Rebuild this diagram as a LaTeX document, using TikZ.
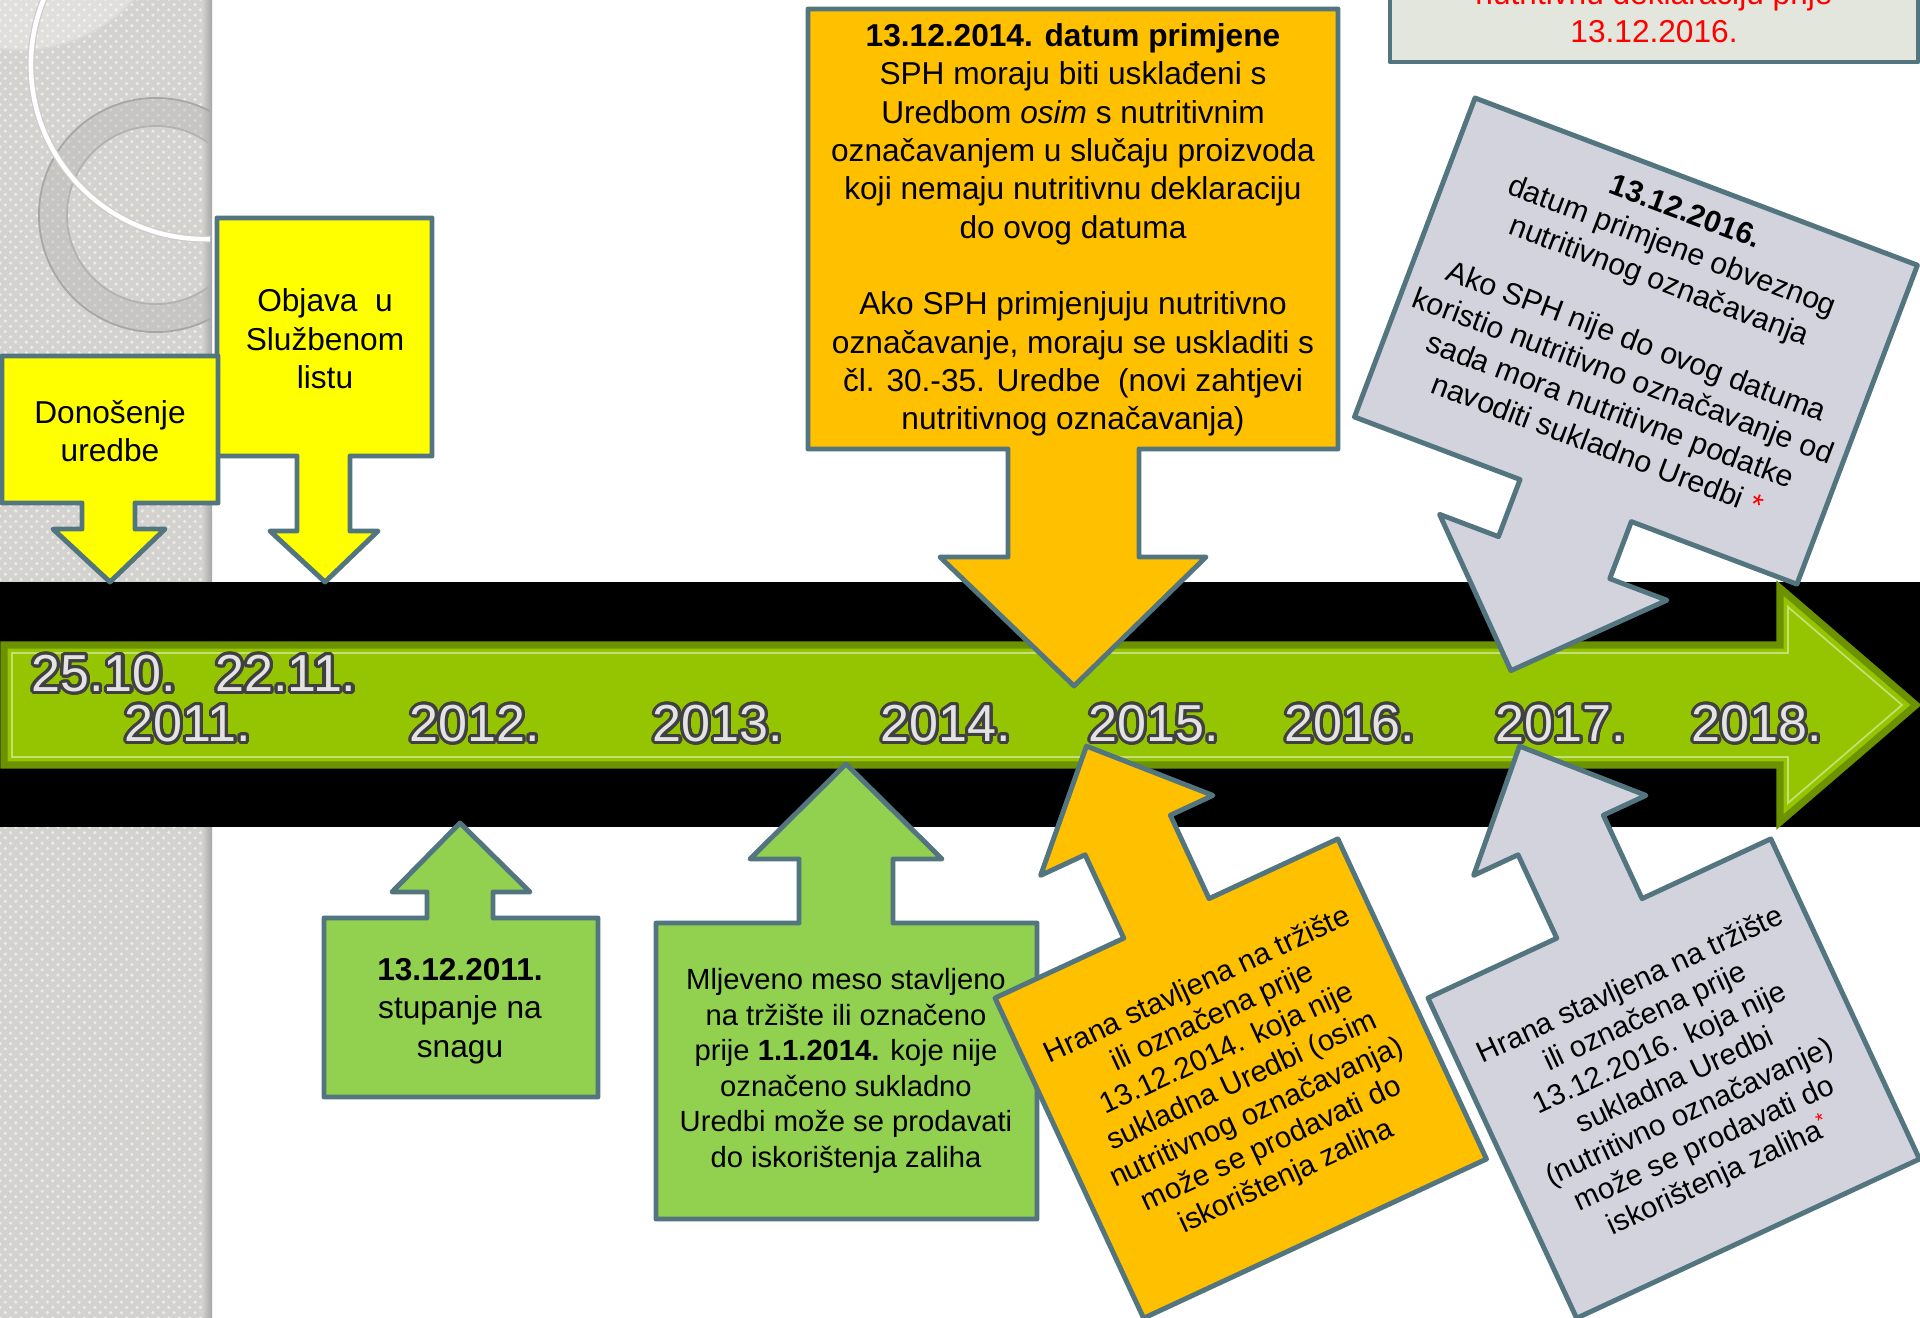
\documentclass[tikz,border=0pt]{standalone}
\usepackage{fontspec}
\setmainfont{Liberation Sans}
\usepackage{contour}
\usepackage{tikz}
\usetikzlibrary{patterns}
\contourlength{0.9pt}
\contournumber{24}
\definecolor{cedge}{HTML}{52757F}
\definecolor{cyellow}{HTML}{FFFF00}
\definecolor{corange}{HTML}{FFC000}
\definecolor{cgreen}{HTML}{92D050}
\definecolor{clav}{HTML}{D3D3DE}
\definecolor{cpale}{HTML}{E2E6DC}
\definecolor{agreen}{HTML}{95C500}
\definecolor{adark}{HTML}{6C9200}
\definecolor{stripegrey}{HTML}{D4D2CE}
\newcommand{\yearmark}[1]{\contour{black!75}{\textcolor{gray!22}{#1}}}
\tikzset{callout/.style = {draw = cedge, line width = 1.4pt, line join = round},
  boxtext/.style = {align = center, inner sep = 0, font = \fontsize{9}{10.9}\selectfont},
  greentext/.style = {align = center, inner sep = 0, font = \fontsize{9}{11}\selectfont},
  minctext/.style = {align = center, inner sep = 0, font = \fontsize{8.3}{10.1}\selectfont},
  tilttext/.style = {align = center, inner sep = 0, font = \fontsize{8.6}{10.5}\selectfont},
  hranatext/.style = {align = center, inner sep = 0, font = \fontsize{8.4}{10}\selectfont},
  yearlabel/.style = {inner sep = 0, font = \fontsize{14.8}{16}\selectfont}}

\begin{document}
\begin{tikzpicture}[x = 0.01cm, y = -0.01cm]
      \useasboundingbox (0, 0) rectangle (1920, 1318);
      \clip (0, 0) rectangle (1920, 1318);
      \fill [white] (0, 0) rectangle (1920, 1318);

      \fill [stripegrey] (0, 0) rectangle (212, 1318);
      \fill [pattern = crosshatch dots, pattern color = black!8] (0, 0) rectangle (212, 1318);
      \shade [left color = stripegrey, right color = black!35] (202, 0) rectangle (212, 1318);
      \begin{scope}
        \clip (0, 0) rectangle (210, 1318);
        \fill [white, opacity = 0.3] (20, -103) circle (1.53cm);
        \draw [white!85!black, line width = 0.5pt] (20, -103) circle (1.53cm);
        \fill [black!30, opacity = 0.4, even odd rule] (156, 215) circle (1.17cm) (156, 215) circle (0.89cm);
        \draw [black!35, line width = 0.5pt] (156, 215) circle (1.17cm);
        \draw [black!30, line width = 0.5pt] (156, 215) circle (0.89cm);
        \draw [black!20, line width = 2pt] (205, 65) circle (1.74cm);
        \draw [white, line width = 1.3pt] (205, 65) circle (1.74cm);
      \end{scope}

      \fill [black] (0, 582) rectangle (1920, 827);
      \draw [adark, fill = agreen, line width = 2pt] (4, 645) -- (1780, 645) -- (1780, 588) -- (1916, 705) -- (1780, 822) -- (1780, 765) -- (4, 765) -- cycle;
      \draw [agreen!55!white, line width = 0.5pt] (12, 653) -- (1788, 653) -- (1788, 607) -- (1902, 705) -- (1788, 803) -- (1788, 757) -- (12, 757) -- cycle;

      \node [yearlabel] (d2510) at (104, 675) {\yearmark{25.10.}};
      \node [yearlabel] (d2211) at (286, 675) {\yearmark{22.11.}};
      \node [yearlabel] (y2011) at (188, 725) {\yearmark{2011.}};
      \node [yearlabel] (y2012) at (475, 725) {\yearmark{2012.}};
      \node [yearlabel] (y2013) at (718, 725) {\yearmark{2013.}};
      \node [yearlabel] (y2014) at (946, 725) {\yearmark{2014.}};
      \node [yearlabel] (y2015) at (1154, 725) {\yearmark{2015.}};
      \node [yearlabel] (y2016) at (1350, 725) {\yearmark{2016.}};
      \node [yearlabel] (y2017) at (1561, 725) {\yearmark{2017.}};
      \node [yearlabel] (y2018) at (1757, 725) {\yearmark{2018.}};

      \draw [callout, fill = cyellow] (217, 218) -- (432, 218) -- (432, 456) -- (350, 456) -- (350, 531) -- (378, 531) -- (325, 582) -- (270, 531) -- (297, 531) -- (297, 456) -- (217, 456) -- cycle;
      \node [boxtext] (objava) at (325, 339) {Objava\ \ u\\Službenom\\listu};
      \draw [callout, fill = cyellow] (2, 356) -- (218, 356) -- (218, 503) -- (135, 503) -- (135, 529) -- (165, 529) -- (110, 582) -- (53, 529) -- (82, 529) -- (82, 503) -- (2, 503) -- cycle;
      \node [boxtext] (donosenje) at (110, 431) {Donošenje\\uredbe};

      \draw [callout, fill = corange] (808, 9) -- (1338, 9) -- (1338, 449) -- (1139, 449) -- (1139, 557) -- (1206, 557) -- (1074, 686) -- (940, 557) -- (1008, 557) -- (1008, 449) -- (808, 449) -- cycle;
      \node [boxtext] (primjena) at (1073, 230) {\textbf{13.12.2014. datum primjene}\\SPH moraju biti usklađeni s\\Uredbom \textit{osim} s nutritivnim\\označavanjem u slučaju proizvoda\\koji nemaju nutritivnu deklaraciju\\do ovog datuma\\[10.9pt]Ako SPH primjenjuju nutritivno\\označavanje, moraju se uskladiti s\\čl. 30.-35. Uredbe\ \ (novi zahtjevi\\nutritivnog označavanja)};

      \draw [callout, fill = cpale] (1390, -20) rectangle (1918, 62);
      \node [boxtext, text = red] (deklaracija) at (1654, 12) {nutritivnu deklaraciju prije\\13.12.2016.};

      \begin{scope}[shift = {(1475, 98)}, rotate = -20.7, transform shape]
        \draw [callout, fill = clav] (0, 0) -- (473, 0) -- (473, 341) -- (296, 341) -- (296, 402) -- (357, 402) -- (236, 523) -- (114, 402) -- (177, 402) -- (177, 341) -- (0, 341) -- cycle;
        \node [tilttext] (obvezno) at (237, 156) {\textbf{13.12.2016.}\\datum primjene obveznog\\nutritivnog označavanja\\[8pt]Ako SPH nije do ovog datuma\\koristio nutritivno označavanje od\\sada mora nutritivne podatke\\navoditi sukladno Uredbi \textcolor{red}{*}};
      \end{scope}

      \draw [callout, fill = cgreen] (324, 918) -- (427, 918) -- (427, 892) -- (392, 892) -- (460, 823) -- (530, 892) -- (493, 892) -- (493, 918) -- (598, 918) -- (598, 1097) -- (324, 1097) -- cycle;
      \node [greentext] (stupanje) at (460, 1011) {\textbf{13.12.2011.}\\stupanje na\\snagu};

      \draw [callout, fill = cgreen] (656, 923) -- (799, 923) -- (799, 859) -- (750, 859) -- (846, 764) -- (942, 859) -- (893, 859) -- (893, 923) -- (1037, 923) -- (1037, 1219) -- (656, 1219) -- cycle;
      \node [minctext] (mljeveno) at (846, 1071) {Mljeveno meso stavljeno\\na tržište ili označeno\\prije \textbf{1.1.2014.} koje nije\\označeno sukladno\\Uredbi može se prodavati\\do iskorištenja zaliha};

      \begin{scope}[shift = {(995, 998)}, rotate = 24.9, transform shape]
        \draw [callout, fill = corange] (0, 0) -- (142, 0) -- (142, -92) -- (93, -92) -- (189, -190) -- (283, -92) -- (236, -92) -- (236, 0) -- (378, 0) -- (378, 353) -- (0, 353) -- cycle;
        \node [hranatext] (hrana14) at (189, 180) {Hrana stavljena na tržište\\ili označena prije\\13.12.2014. koja nije\\sukladna Uredbi (osim\\nutritivnog označavanja)\\može se prodavati do\\iskorištenja zaliha};
      \end{scope}

      \begin{scope}[shift = {(1428, 998)}, rotate = 24.9, transform shape]
        \draw [callout, fill = clav] (0, 0) -- (142, 0) -- (142, -92) -- (93, -92) -- (189, -190) -- (283, -92) -- (236, -92) -- (236, 0) -- (378, 0) -- (378, 353) -- (0, 353) -- cycle;
        \node [hranatext] (hrana16) at (189, 180) {Hrana stavljena na tržište\\ili označena prije\\13.12.2016. koja nije\\sukladna Uredbi\\(nutritivno označavanje)\\može se prodavati do\\iskorištenja zaliha\textsuperscript{\textcolor{red}{*}}};
      \end{scope}
\end{tikzpicture}
\end{document}
